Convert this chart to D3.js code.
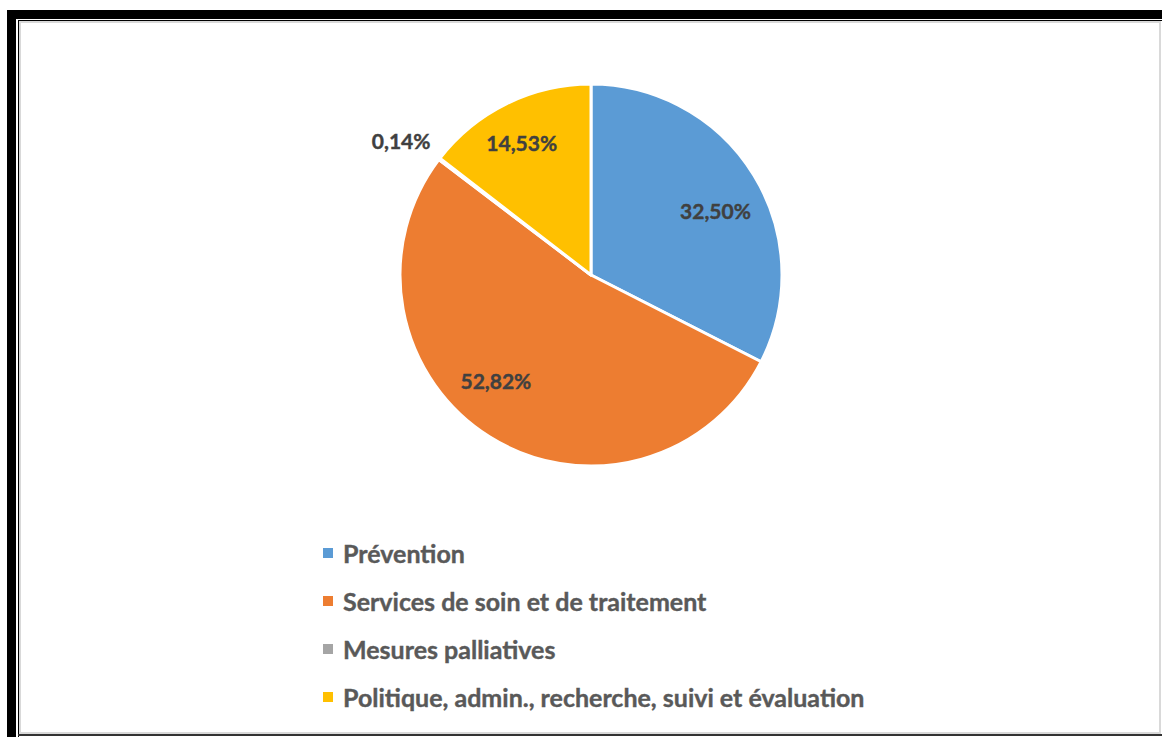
<!DOCTYPE html>
<html>
<head>
<meta charset="utf-8">
<script src="https://cdn.jsdelivr.net/npm/d3@7/dist/d3.min.js"></script>
<style>
  html, body { margin: 0; padding: 0; background: #fff; }
  svg { display: block; }
</style>
</head>
<body>
<svg id="chart" width="1162" height="737"></svg>
<script>
// Répartition des dépenses par fonction (en % du total)
const categories = [
  "Prévention",
  "Services de soin et de traitement",
  "Mesures palliatives",
  "Politique, admin., recherche, suivi et évaluation"
];
const shares = [32.50, 52.82, 0.14, 14.53];
const shareLabels = ["32,50%", "52,82%", "0,14%", "14,53%"];
const colors = ["#5B9BD5", "#ED7D31", "#A5A5A5", "#FFC000"];

const W = 1162, H = 737;
const svg = d3.select("#chart");

// Cadre : ombre noire épaisse en haut et à gauche, filets fins autour
const frame = svg.append("g");
frame.append("rect").attr("x", 7).attr("y", 10).attr("width", W - 7).attr("height", 9).attr("fill", "#000");
frame.append("rect").attr("x", 7).attr("y", 10).attr("width", 9).attr("height", H - 10).attr("fill", "#000");
frame.append("line").attr("x1", 18).attr("x2", W).attr("y1", 20.5).attr("y2", 20.5).attr("stroke", "#000").attr("stroke-width", 1);
frame.append("line").attr("x1", 18.5).attr("x2", 18.5).attr("y1", 20).attr("y2", H).attr("stroke", "#000").attr("stroke-width", 1);
frame.append("line").attr("x1", 18).attr("x2", W).attr("y1", 735).attr("y2", 735).attr("stroke", "#333").attr("stroke-width", 2);
frame.append("rect").attr("x", 20).attr("y", 22).attr("width", 1140).attr("height", 711)
  .attr("fill", "none").attr("stroke", "#d9d9d9").attr("stroke-width", 2);

// Camembert
const cx = 591, cy = 275, R = 191;
const pie = d3.pie().sort(null).value(d => d.value).startAngle(0).endAngle(2 * Math.PI);
const data = categories.map((c, i) => ({ name: c, value: shares[i], label: shareLabels[i], color: colors[i] }));
const arcs = pie(data);
const arc = d3.arc().innerRadius(0).outerRadius(R);

const g = svg.append("g").attr("transform", `translate(${cx},${cy})`);
g.selectAll("path.slice")
  .data(arcs)
  .join("path")
  .attr("class", "slice")
  .attr("d", arc)
  .attr("fill", d => d.data.color)
  .attr("stroke", "#fff")
  .attr("stroke-width", 3)
  .attr("stroke-linejoin", "round");

// Étiquettes de valeur : à l'intérieur des parts, à l'extérieur pour la très petite part
const labelArc = d3.arc().innerRadius(R * 0.74).outerRadius(R * 0.74);
const outerArc = d3.arc().innerRadius(R * 1.12).outerRadius(R * 1.12);
const nudges = [[4, 9], [-20, -14], [-20, -4], [-7, -6]];
g.selectAll("text.val")
  .data(arcs)
  .join("text")
  .attr("class", "val")
  .attr("transform", (d, i) => {
    const small = d.data.value < 1;
    const [x, y] = small ? outerArc.centroid(d) : labelArc.centroid(d);
    return `translate(${x + nudges[i][0]},${y + nudges[i][1]})`;
  })
  .attr("text-anchor", "middle")
  .attr("dominant-baseline", "central")
  .attr("font-family", "Lato, 'Open Sans', sans-serif")
  .attr("font-weight", "bold")
  .attr("font-size", 21)
  .attr("fill", "#404040")
  .attr("stroke", "#404040")
  .attr("stroke-width", 0.4)
  .text(d => d.data.label);

// Légende
const legend = svg.append("g").attr("transform", "translate(323,553)");
const rowGap = 48;
const item = legend.selectAll("g.item")
  .data(data)
  .join("g")
  .attr("class", "item")
  .attr("transform", (d, i) => `translate(0,${i * rowGap})`);
item.append("rect")
  .attr("x", 0).attr("y", -5)
  .attr("width", 10).attr("height", 10)
  .attr("fill", d => d.color);
item.append("text")
  .attr("x", 20).attr("y", 0)
  .attr("dominant-baseline", "central")
  .attr("font-family", "Lato, 'Open Sans', sans-serif")
  .attr("font-weight", "bold")
  .attr("font-size", 25)
  .attr("fill", "#595959")
  .attr("stroke", "#595959")
  .attr("stroke-width", 0.4)
  .text(d => d.name);
</script>
</body>
</html>
